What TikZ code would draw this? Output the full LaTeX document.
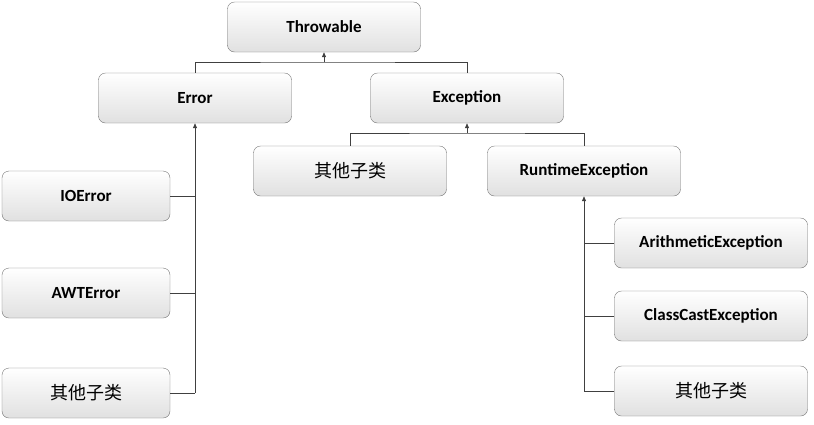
\documentclass[tikz,border=0pt]{standalone}
\usepackage{fontspec}
\setmainfont{Carlito}
\newfontfamily\cjk{Noto Sans CJK SC}
\usetikzlibrary{arrows.meta}
\begin{document}
\begin{tikzpicture}[x=1pt,y=-1pt,
  box/.style={draw=black!55,rounded corners=7pt,top color=white,bottom color=black!12,
    minimum height=50pt,inner sep=0pt,font=\fontsize{17}{20}\selectfont\bfseries},
  wide/.style={box,minimum width=193pt},
  narrow/.style={box,minimum width=168pt},
  cn/.style={font=\cjk\fontsize{18}{20}\selectfont},
  ln/.style={draw=black!75,line width=0.7pt},
  arr/.style={ln,-{Triangle[length=5pt,width=4pt]}}]
\useasboundingbox (0,0) rectangle (814,424);
\node[wide] (thr) at (324,27) {Throwable};
\node[wide] (err) at (195,98) {Error};
\node[wide] (exc) at (467,98) {Exception};
\node[wide,cn] (eo) at (350,171) {其他子类};
\node[wide] (rt) at (584,171) {RuntimeException};
\node[narrow] (io) at (86,196) {IOError};
\node[narrow] (awt) at (86,293) {AWTError};
\node[narrow,cn] (ero) at (86,393) {其他子类};
\node[wide] (ar) at (711,243) {ArithmeticException};
\node[wide] (cc) at (711,316) {ClassCastException};
\node[wide,cn] (ro) at (711,391) {其他子类};
\coordinate (j1) at (324,62);
\coordinate (j2) at (467,133);
\draw[arr] (j1) -- (thr.south);
\draw[ln] (err.north) |- (j1) -| (exc.north);
\draw[arr] (j2) -- (exc.south);
\draw[ln] (eo.north) |- (j2) -| (rt.north);
\coordinate (eb) at (195,393);
\draw[arr] (eb) -- (err.south);
\draw[ln] (io.east) -- (io.east -| eb);
\draw[ln] (awt.east) -- (awt.east -| eb);
\draw[ln] (ero.east) -- (eb);
\coordinate (rb) at (584,391);
\draw[arr] (rb) -- (rt.south);
\draw[ln] (ar.west) -- (ar.west -| rb);
\draw[ln] (cc.west) -- (cc.west -| rb);
\draw[ln] (ro.west) -- (rb);
\end{tikzpicture}
\end{document}
